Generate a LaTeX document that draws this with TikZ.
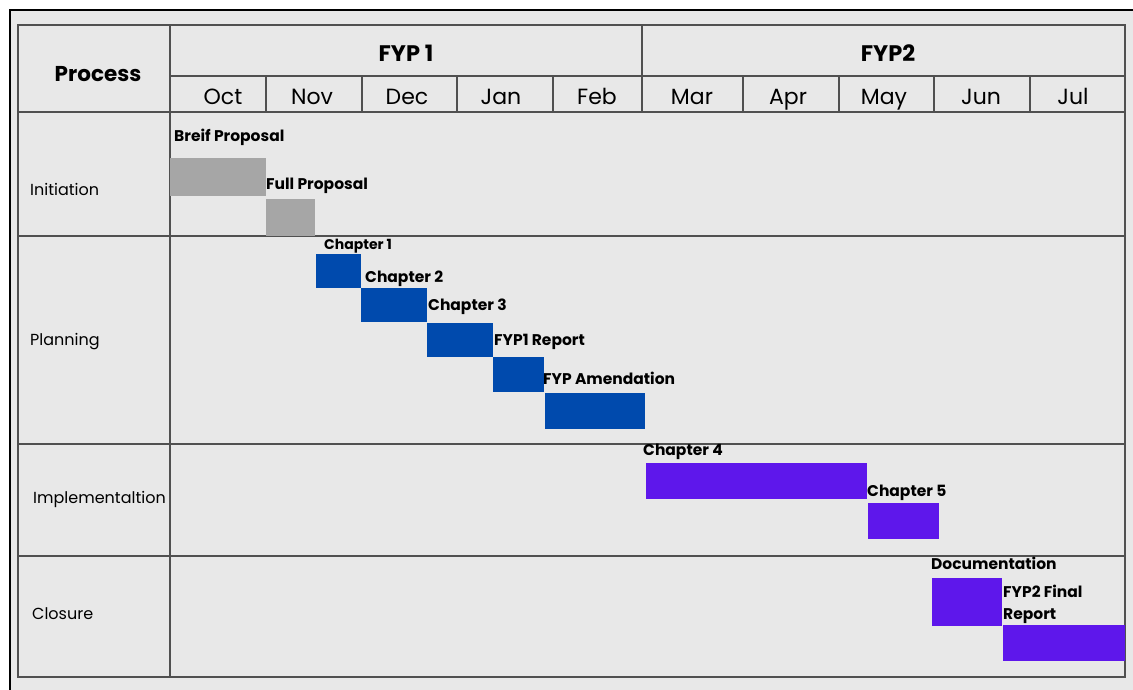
\documentclass[tikz,border=0pt]{standalone}
\usepackage{fontspec}
\setmainfont{Poppins}
\begin{document}
\begin{tikzpicture}[x=1pt,y=-1pt,
  grid/.style={draw=gridgray,line width=1.4pt},
  bar/.style={anchor=north west,inner sep=0pt,outer sep=0pt},
  graybar/.style={bar,fill=bargray},
  bluebar/.style={bar,fill=barblue},
  purplebar/.style={bar,fill=barpurple},
  task/.style={anchor=west,inner sep=0pt,font=\fontsize{15.5}{17}\selectfont\bfseries},
  month/.style={anchor=base,inner sep=0pt,font=\fontsize{22}{24}\selectfont},
  rowlab/.style={anchor=west,inner sep=0pt,font=\fontsize{16}{18}\selectfont},
  head/.style={inner sep=0pt,font=\fontsize{21.5}{23}\selectfont\bfseries}]
\definecolor{panel}{HTML}{E8E8E8}
\definecolor{gridgray}{HTML}{505050}
\definecolor{bargray}{HTML}{A6A6A6}
\definecolor{barblue}{HTML}{004AAD}
\definecolor{barpurple}{HTML}{5E17EB}
\useasboundingbox (0,0) rectangle (1133,690);
% page and frame
\fill[white] (0,0) rectangle (1133,690);
\fill[panel] (10,10) rectangle (1133,690);
\draw[black,line width=2.8pt] (10,690) -- (10,10) -- (1133,10);
% table grid
\draw[grid] (18,25) rectangle (1125,677);
\draw[grid] (170,25) -- (170,677);
\draw[grid] (170,76) -- (1125,76);
\draw[grid] (18,112) -- (1125,112);
\draw[grid] (642,25) -- (642,112);
\foreach \x in {266,362,457,553,743,839,934,1030}
  \draw[grid] (\x,76) -- (\x,112);
\draw[grid] (18,236) -- (1125,236);
\draw[grid] (18,444) -- (1125,444);
\draw[grid] (18,556) -- (1125,556);
% headers
\node[head] (process) at (98,74) {Process};
\node[head,font=\fontsize{22.5}{24}\selectfont\bfseries] (fyp1) at (406,53) {FYP 1};
\node[head,font=\fontsize{22.5}{24}\selectfont\bfseries] (fyp2) at (888,53) {FYP2};
\node[month] (oct) at (223,105) {Oct};
\node[month] (nov) at (312,105) {Nov};
\node[month] (dec) at (407,105) {Dec};
\node[month] (jan) at (501,105) {Jan};
\node[month] (feb) at (597,105) {Feb};
\node[month] (mar) at (692,105) {Mar};
\node[month] (apr) at (788,105) {Apr};
\node[month] (may) at (884,105) {May};
\node[month] (jun) at (981,105) {Jun};
\node[month] (jul) at (1073,105) {Jul};
% process rows
\node[rowlab] (init) at (30,189) {Initiation};
\node[rowlab] (plan) at (30,342) {Planning};
\node[rowlab] (impl) at (33,499) {Implementaltion};
\node[rowlab] (clos) at (32,614) {Closure};
% initiation
\node[graybar,minimum width=96pt,minimum height=38pt] (brief) at (170,158) {};
\node[task] (briefl) at (174,137) {Breif Proposal};
\node[graybar,minimum width=49pt,minimum height=37pt] (full) at (266,199) {};
\node[task] (fulll) at (266,186) {Full Proposal};
% planning
\node[bluebar,minimum width=45pt,minimum height=34pt] (ch1) at (316,254) {};
\node[task,font=\fontsize{14}{16}\selectfont\bfseries] (ch1l) at (324,246) {Chapter 1};
\node[bluebar,minimum width=66pt,minimum height=34pt] (ch2) at (361,288) {};
\node[task] (ch2l) at (365,279) {Chapter 2};
\node[bluebar,minimum width=66pt,minimum height=34pt] (ch3) at (427,323) {};
\node[task] (ch3l) at (428,307) {Chapter 3};
\node[bluebar,minimum width=51pt,minimum height=35pt] (rep1) at (493,357) {};
\node[task] (rep1l) at (494,342) {FYP1 Report};
\node[bluebar,minimum width=100pt,minimum height=36pt] (amend) at (545,393) {};
\node[task] (amendl) at (543,378) {FYP Amendation};
% implementation
\node[purplebar,minimum width=221pt,minimum height=36pt] (ch4) at (646,463) {};
\node[task] (ch4l) at (643,452) {Chapter 4};
\node[purplebar,minimum width=71pt,minimum height=36pt] (ch5) at (868,503) {};
\node[task] (ch5l) at (867,493) {Chapter 5};
% closure
\node[purplebar,minimum width=70pt,minimum height=48pt] (doc) at (932,578) {};
\node[task] (docl) at (931,563) {Documentation};
\node[purplebar,minimum width=122pt,minimum height=36pt] (rep2) at (1003,625) {};
\node[task,align=left,font=\fontsize{15.5}{22}\selectfont\bfseries] (rep2l) at (1003,604) {FYP2 Final\\Report};
\end{tikzpicture}
\end{document}
